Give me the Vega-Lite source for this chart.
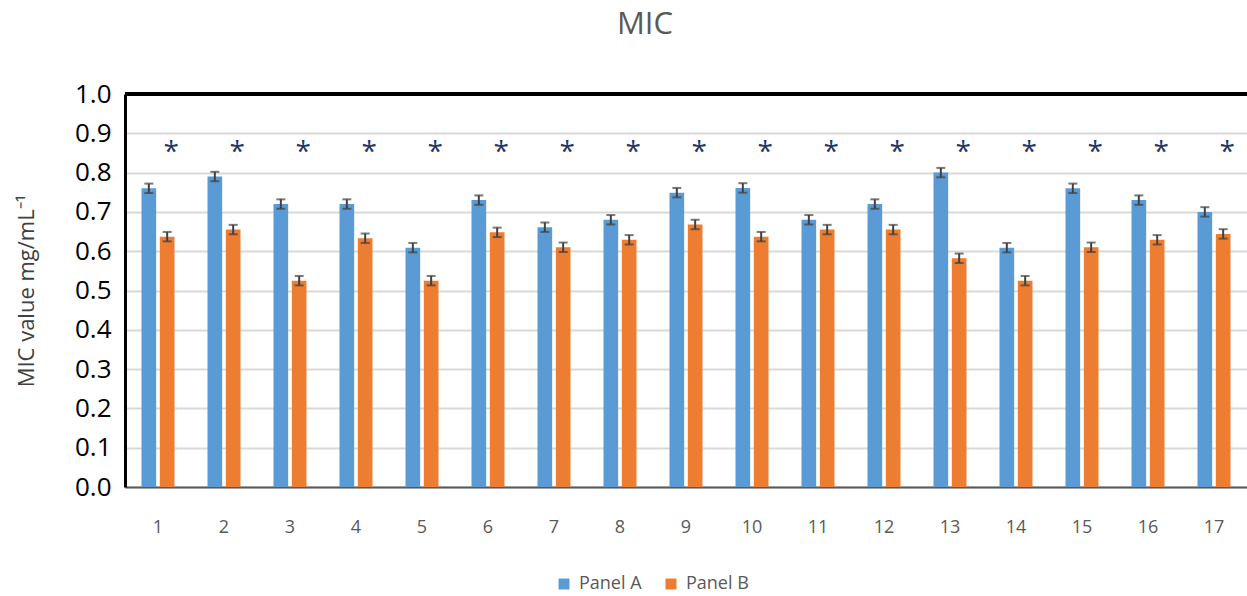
{
  "$schema": "https://vega.github.io/schema/vega-lite/v6.json",
  "autosize": {"type": "none"},
  "padding": {"left": 125, "top": 94, "right": 0, "bottom": 109},
  "width": 1122,
  "height": 393,
  "background": "white",
  "title": {"text": "MIC", "fontSize": 31, "font": "Open Sans", "fontWeight": "normal", "color": "#595959", "offset": 40, "anchor": "middle", "frame": "group", "dx": -41},
  "data": {"values": [
    {"group": "1", "panel": "Panel A", "value": 0.76, "lo": 0.748, "hi": 0.772},
    {"group": "1", "panel": "Panel B", "value": 0.637, "lo": 0.625, "hi": 0.649},
    {"group": "2", "panel": "Panel A", "value": 0.79, "lo": 0.778, "hi": 0.802},
    {"group": "2", "panel": "Panel B", "value": 0.655, "lo": 0.643, "hi": 0.667},
    {"group": "3", "panel": "Panel A", "value": 0.72, "lo": 0.708, "hi": 0.732},
    {"group": "3", "panel": "Panel B", "value": 0.525, "lo": 0.513, "hi": 0.537},
    {"group": "4", "panel": "Panel A", "value": 0.72, "lo": 0.708, "hi": 0.732},
    {"group": "4", "panel": "Panel B", "value": 0.633, "lo": 0.621, "hi": 0.645},
    {"group": "5", "panel": "Panel A", "value": 0.609, "lo": 0.597, "hi": 0.621},
    {"group": "5", "panel": "Panel B", "value": 0.525, "lo": 0.513, "hi": 0.537},
    {"group": "6", "panel": "Panel A", "value": 0.73, "lo": 0.718, "hi": 0.742},
    {"group": "6", "panel": "Panel B", "value": 0.648, "lo": 0.636, "hi": 0.66},
    {"group": "7", "panel": "Panel A", "value": 0.661, "lo": 0.649, "hi": 0.673},
    {"group": "7", "panel": "Panel B", "value": 0.61, "lo": 0.598, "hi": 0.622},
    {"group": "8", "panel": "Panel A", "value": 0.68, "lo": 0.668, "hi": 0.692},
    {"group": "8", "panel": "Panel B", "value": 0.629, "lo": 0.617, "hi": 0.641},
    {"group": "9", "panel": "Panel A", "value": 0.749, "lo": 0.737, "hi": 0.761},
    {"group": "9", "panel": "Panel B", "value": 0.668, "lo": 0.656, "hi": 0.68},
    {"group": "10", "panel": "Panel A", "value": 0.761, "lo": 0.749, "hi": 0.773},
    {"group": "10", "panel": "Panel B", "value": 0.637, "lo": 0.625, "hi": 0.649},
    {"group": "11", "panel": "Panel A", "value": 0.68, "lo": 0.668, "hi": 0.692},
    {"group": "11", "panel": "Panel B", "value": 0.655, "lo": 0.643, "hi": 0.667},
    {"group": "12", "panel": "Panel A", "value": 0.72, "lo": 0.708, "hi": 0.732},
    {"group": "12", "panel": "Panel B", "value": 0.655, "lo": 0.643, "hi": 0.667},
    {"group": "13", "panel": "Panel A", "value": 0.8, "lo": 0.788, "hi": 0.812},
    {"group": "13", "panel": "Panel B", "value": 0.582, "lo": 0.57, "hi": 0.594},
    {"group": "14", "panel": "Panel A", "value": 0.609, "lo": 0.597, "hi": 0.621},
    {"group": "14", "panel": "Panel B", "value": 0.525, "lo": 0.513, "hi": 0.537},
    {"group": "15", "panel": "Panel A", "value": 0.76, "lo": 0.748, "hi": 0.772},
    {"group": "15", "panel": "Panel B", "value": 0.61, "lo": 0.598, "hi": 0.622},
    {"group": "16", "panel": "Panel A", "value": 0.73, "lo": 0.718, "hi": 0.742},
    {"group": "16", "panel": "Panel B", "value": 0.629, "lo": 0.617, "hi": 0.641},
    {"group": "17", "panel": "Panel A", "value": 0.7, "lo": 0.688, "hi": 0.712},
    {"group": "17", "panel": "Panel B", "value": 0.644, "lo": 0.632, "hi": 0.656}
  ]},
  "encoding": {
    "x": {
      "field": "group", "type": "ordinal", "sort": null,
      "scale": {"paddingInner": 0.5, "paddingOuter": 0.25},
      "axis": {"title": null, "labelAngle": 0, "labelFontSize": 18, "labelFont": "Open Sans", "labelColor": "#595959", "labelPadding": 31, "ticks": false, "domainColor": "#595959", "domainWidth": 2, "grid": false}
    },
    "xOffset": {"field": "panel", "type": "nominal", "scale": {"paddingInner": 0.2}}
  },
  "layer": [
    {
      "mark": {"type": "bar"},
      "encoding": {
        "y": {
          "field": "value", "type": "quantitative",
          "scale": {"domain": [0, 1], "nice": false},
          "axis": {"title": "MIC value mg/mL⁻¹", "format": ".1f"}
        },
        "color": {
          "field": "panel", "type": "nominal",
          "scale": {"domain": ["Panel A", "Panel B"], "range": ["#5B9BD5", "#ED7D31"]},
          "legend": {"title": null, "orient": "none", "direction": "horizontal", "legendX": 430, "legendY": 481, "symbolType": "square", "symbolSize": 120, "symbolStrokeWidth": 0, "labelFontSize": 18, "labelFont": "Open Sans", "labelColor": "#595959", "columnPadding": 20, "labelOffset": 6}
        }
      }
    },
    {
      "mark": {"type": "rule", "color": "#404040", "strokeWidth": 2},
      "encoding": {
        "y": {"field": "lo", "type": "quantitative"},
        "y2": {"field": "hi"}
      }
    },
    {
      "mark": {"type": "tick", "color": "#404040", "thickness": 2, "size": 9},
      "encoding": {"y": {"field": "lo", "type": "quantitative"}}
    },
    {
      "mark": {"type": "tick", "color": "#404040", "thickness": 2, "size": 9},
      "encoding": {"y": {"field": "hi", "type": "quantitative"}}
    },
    {
      "transform": [{"filter": "datum.panel === 'Panel B'"}],
      "mark": {"type": "text", "text": "*", "fontSize": 28, "font": "Open Sans", "color": "#1F3864", "baseline": "middle", "dx": 4},
      "encoding": {"y": {"datum": 0.85}}
    },
    {
      "mark": {"type": "rule", "color": "#000000", "strokeWidth": 3},
      "encoding": {"y": {"datum": 1.0}, "x": {"value": 0}, "x2": {"value": 1122}, "xOffset": null}
    }
  ],
  "config": {
    "view": {"stroke": null},
    "axis": {"labelFont": "Open Sans"},
    "axisY": {
      "tickCount": 10, "labelOverlap": false, "labelFlush": false,
      "titleFontSize": 22, "titleFont": "Open Sans", "titleFontWeight": "normal", "titleColor": "#404040", "titlePadding": 36,
      "labelFontSize": 26, "labelFont": "Open Sans", "labelColor": "#000000", "labelPadding": 14, "ticks": false,
      "domainColor": "#000000", "domainWidth": 3,
      "gridColor": "#D9D9D9", "gridWidth": 2
    }
  }
}
